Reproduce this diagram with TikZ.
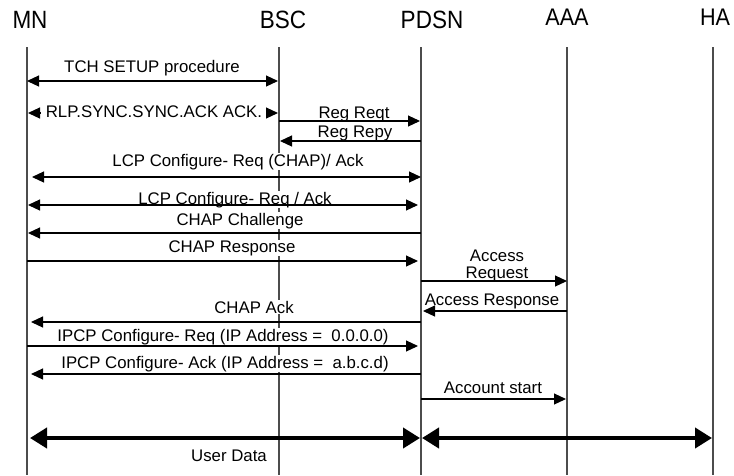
\documentclass[tikz,border=0pt]{standalone}
\usepackage{fontspec}
\setmainfont{Liberation Sans}
\newfontfamily\headfont[FakeStretch=0.9]{Liberation Sans}
\usetikzlibrary{arrows.meta}
\begin{document}
\begin{tikzpicture}[x=1pt,y=-1pt,
  life/.style={line width=1.1pt, draw=black!70},
  tipA/.tip={Triangle[length=12pt,width=11pt]},
  tipB/.tip={Triangle[length=17pt,width=20pt]},
  msg/.style={line width=1.1pt, -tipA},
  dmsg/.style={line width=1.1pt, tipA-tipA},
  bigmsg/.style={line width=4pt, tipB-tipB},
  lbl/.style={font=\fontsize{16.8}{18}\selectfont, fill=white, inner sep=0.5pt, anchor=base},
  head/.style={font=\headfont\fontsize{25}{27}\selectfont, anchor=base, inner sep=0pt},
  headsm/.style={font=\headfont\fontsize{24}{26}\selectfont, anchor=base, inner sep=0pt},
]
\useasboundingbox (0,0) rectangle (734,475);
\fill[white] (0,0) rectangle (734,475);

% headers
\node[head]   (MN)   at (30,28)  {MN};
\node[head]   (BSC)  at (283,28) {BSC};
\node[head]   (PDSN) at (432,28) {PDSN};
\node[headsm] (AAA)  at (567,25) {AAA};
\node[headsm] (HA)   at (715,25) {HA};

% lifelines
\coordinate (MNt) at (27,47);   \coordinate (MNb) at (27,475);
\coordinate (BSCt) at (279,47); \coordinate (BSCb) at (279,475);
\coordinate (PDt) at (421,47);  \coordinate (PDb) at (421,475);
\coordinate (AAt) at (567,47);  \coordinate (AAb) at (567,475);
\coordinate (HAt) at (713,47);  \coordinate (HAb) at (713,475);
\draw[life] (MNt) -- (MNb);
\draw[life] (BSCt) -- (BSCb);
\draw[life] (PDt) -- (PDb);
\draw[life] (AAt) -- (AAb);
\draw[life] (HAt) -- (HAb);

% labels
\node[lbl] (l1)  at (152,72)  {TCH SETUP procedure};
\node[lbl] (l2)  at (154,117) {RLP.SYNC.SYNC.ACK ACK.};
\node[lbl] (l3)  at (354,118) {Reg Reqt};
\node[lbl] (l4)  at (355,137) {Reg Repy};
\node[lbl] (l5)  at (238,166) {LCP Configure- Req (CHAP)/ Ack};
\node[lbl] (l6)  at (235,204) {LCP Configure- Req / Ack};
\node[lbl] (l7)  at (240,225) {CHAP Challenge};
\node[lbl] (l8)  at (232,252) {CHAP Response};
\node[lbl] (l9a) at (497,261) {Access};
\node[lbl] (l9b) at (497,278) {Request};
\node[lbl] (l10) at (492,305) {Access Response};
\node[lbl] (l11) at (254,313) {CHAP Ack};
\node[lbl] (l12) at (223,341) {IPCP Configure- Req (IP Address =\ \ 0.0.0.0)};
\node[lbl] (l13) at (225,368) {IPCP Configure- Ack (IP Address =\ \ a.b.c.d)};
\node[lbl] (l14) at (493,393) {Account start};
\node[lbl] (l15) at (229,461) {User Data};

% message endpoints
\coordinate (a1s) at (27,81);   \coordinate (a1e) at (278,81);
\coordinate (a2a) at (40,113);  \coordinate (a2b) at (28,113);
\coordinate (a2c) at (266,113); \coordinate (a2d) at (278,113);
\coordinate (a3s) at (279,121); \coordinate (a3e) at (420,121);
\coordinate (a4s) at (421,141); \coordinate (a4e) at (280,141);
\coordinate (a5s) at (32,177);  \coordinate (a5e) at (421,177);
\coordinate (a6s) at (28,205);  \coordinate (a6e) at (418,205);
\coordinate (a7s) at (421,233); \coordinate (a7e) at (28,233);
\coordinate (a8s) at (27,261);  \coordinate (a8e) at (418,261);
\coordinate (a9s) at (421,281); \coordinate (a9e) at (567,281);
\coordinate (a10s) at (567,311); \coordinate (a10e) at (423,311);
\coordinate (a11s) at (421,322); \coordinate (a11e) at (31,322);
\coordinate (a12s) at (27,346);  \coordinate (a12e) at (418,346);
\coordinate (a13s) at (421,374); \coordinate (a13e) at (31,374);
\coordinate (a14s) at (421,399); \coordinate (a14e) at (566,399);
\coordinate (a15s) at (30,438);  \coordinate (a15e) at (420,438);
\coordinate (a16s) at (422,438); \coordinate (a16e) at (712,438);

% messages
\draw[dmsg] (a1s) -- (a1e);
\draw[msg] (a2a) -- (a2b);
\draw[msg] (a2c) -- (a2d);
\draw[msg] (a3s) -- (a3e);
\draw[msg] (a4s) -- (a4e);
\draw[dmsg] (a5s) -- (a5e);
\draw[dmsg] (a6s) -- (a6e);
\draw[msg] (a7s) -- (a7e);
\draw[msg] (a8s) -- (a8e);
\draw[msg] (a9s) -- (a9e);
\draw[msg] (a10s) -- (a10e);
\draw[msg] (a11s) -- (a11e);
\draw[msg] (a12s) -- (a12e);
\draw[msg] (a13s) -- (a13e);
\draw[msg] (a14s) -- (a14e);
\draw[bigmsg] (a15s) -- (a15e);
\draw[bigmsg] (a16s) -- (a16e);
\end{tikzpicture}
\end{document}
